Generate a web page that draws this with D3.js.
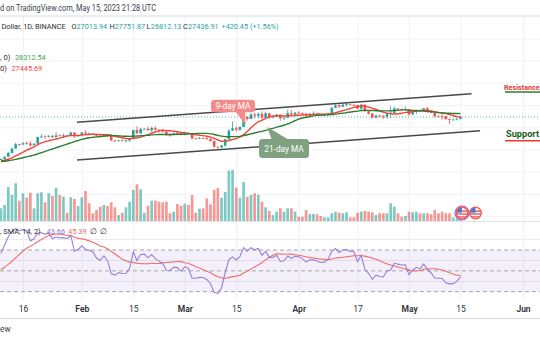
<!DOCTYPE html>
<html><head><meta charset="utf-8">
<script src="https://cdn.jsdelivr.net/npm/d3@7/dist/d3.min.js"></script>
<style>html,body{margin:0;padding:0;background:#fff;overflow:hidden}svg{display:block}</style>
</head><body><svg id="c" width="540" height="340"></svg>
<script>
// ---------- DATA ----------
// closes before the visible range (Dec 1 2022 - Jan 9 2023), used for the indicators
const warmupCloses = [16980,17095,16888,17109,16966,17089,16836,17224,17128,17127,17085,17207,17775,17804,17356,16632,16777,16738,16439,16906,16817,16821,16778,16836,16832,16919,16707,16548,16633,16607,16542,16616,16672,16675,16850,16831,16951,16955,17091,17178];
const firstDay = "2023-01-10", lastDay = "2023-05-15";
const opens = [
17178,17440,17943,18846,19930,20954,20871,21185,21134,20677,21071,22667,22783,22707,22917,22633,23060,23009,23074,23027,23743,22827,
23125,23732,23488,23431,23326,22933,22763,23264,22939,21819,21651,21870,21788,21808,22220,24325,23517,24569,24631,24271,24836,24439,24188,23947,23198,23175,23561,23522,
23147,23646,23475,22362,22354,22435,22429,22219,21718,20363,20187,20633,22163,24197,24746,24375,25052,27423,26965,28038,27768,28175,27307,28333,27493,27494,27994,27139,27268,28348,28033,
28478,28411,28199,27790,28169,28175,28033,27906,27947,28333,29652,30235,29884,30390,30485,30318,30315,29445,30397,28822,28245,27262,27816,27591,27514,28307,28422,29473,29340,29248,
29268,28068,28669,29026,28838,29507,28848,28430,27668,27628,27598,26968,26805,26826,27013.94];
const highs = [
17499,17990,19117,20000,21258,21050,21474,21647,21650,21192,22755,23371,23078,23170,23180,23816,23290,23500,23165,23960,23783,23320,
23812,24255,23715,23587,23433,23158,23350,23452,23011,21945,21906,22090,21899,22325,24380,25250,24877,24750,25192,25121,25250,24476,24600,24132,23218,23689,23895,23600,
24000,23780,23479,22410,22659,22603,22535,22267,21834,20367,20792,22185,24500,26386,25250,25196,27756,27725,28390,28472,28500,28803,28750,28400,27800,28200,28044,27500,29200,29159,28659,
28820,28530,28500,28444,28776,28190,28100,28170,28530,29770,30550,30500,30620,31000,30600,30550,30320,30485,30410,29076,28372,27882,27820,28000,28400,30020,29890,29600,29460,29960,
29338,28880,29266,29379,29677,29820,29138,28631,27820,28335,27638,27075,27050,27200,27751.87];
const lows = [
17156,17315,17910,18714,19888,20551,20611,20835,20407,20659,20861,22422,22292,22512,22465,22300,22850,22534,22878,22978,22500,22714,
22745,23364,23205,23253,22745,22628,22745,22665,21688,21451,21599,21631,21351,21532,22047,23505,23339,24433,24192,23840,24150,23574,23608,22841,22722,23068,23106,23020,
23020,23195,21971,22085,22198,22257,21928,21580,20042,19549,19946,20271,21918,24042,23930,24123,25000,26578,26889,27178,27124,26601,27105,27000,27153,27445,26552,26631,27226,27720,27525,
28220,27870,27200,27660,27820,27711,27766,27865,27800,28170,29600,29620,29850,29900,30225,30120,29272,29100,28630,28010,27125,27140,27350,26942,27020,27235,28380,28890,29085,29100,
27680,27872,28130,28669,28800,28385,28395,27262,27353,26777,26707,25811,26692,26600,26812.13];
const closes = [
17440,17943,18846,19930,20954,20871,21185,21134,20677,21071,22667,22783,22707,22917,22633,23060,23009,23074,23027,23743,22827,23125,
23732,23488,23431,23326,22933,22763,23264,22939,21819,21651,21870,21788,21808,22220,24325,23517,24569,24631,24271,24836,24439,24188,23947,23198,23175,23561,23522,23147,
23646,23475,22362,22354,22435,22429,22219,21718,20363,20187,20633,22163,24197,24746,24375,25052,27423,26965,28038,27768,28175,27307,28333,27493,27494,27994,27139,27268,28348,28033,28478,
28411,28199,27790,28169,28175,28033,27906,27947,28333,29652,30235,29884,30390,30485,30318,30315,29445,30397,28822,28245,27262,27816,27591,27514,28307,28422,29473,29340,29248,29268,
28068,28669,29026,28838,29507,28848,28430,27668,27628,27598,26968,26805,26826,27016,27436.91];
// volume, thousands
const volumes = [
127,160,340,260,377,203,277,233,283,127,277,287,187,277,250,333,260,243,83,237,220,150,
237,300,177,77,110,143,160,150,187,137,60,83,137,193,310,367,317,83,153,203,203,193,187,193,77,93,170,153,
173,160,260,83,123,127,227,167,310,330,233,290,503,510,333,233,390,243,260,277,263,193,137,100,60,93,127,93,127,127,93,
43,43,110,70,70,67,50,37,37,77,93,83,77,87,37,37,83,93,100,93,87,60,77,77,77,177,143,77,43,50,
93,87,93,77,77,77,67,110,77,93,77,77,37,27,40];
const tickDates = ["2023-01-16","2023-02-01","2023-02-15","2023-03-01","2023-03-15","2023-04-01","2023-04-17","2023-05-01","2023-05-15","2023-06-01"];
const tickLabels = ["16","Feb","15","Mar","15","Apr","17","May","15","Jun"];
const channelUpper = [["2023-01-30T16:30Z",26170],["2023-05-18T00:00Z",33006]];
const channelLower = [["2023-01-30T16:30Z",17160],["2023-05-20T08:00Z",24163]];
const maPeriods = [9, 21];
const maLegendValues = ["28312.54", "27445.69"];
const rsiLegendValues = ["43.66", "45.39"];
const rsiLen = 14, rsiMaLen = 14;
const rsiLevels = [70, 50, 30];

// ---------- SETUP ----------
const FONT = "Roboto, 'Liberation Sans', Arial, sans-serif";
const svg = d3.select('#c').style('font-family', FONT);
const D = s => new Date(s.length <= 10 ? s + "T00:00:00Z" : s);
const dates = d3.utcDay.range(D(firstDay), d3.utcDay.offset(D(lastDay), 1));
const N = dates.length;
const idx = d3.range(N);

const x = d3.scaleUtc().domain([D("2023-01-16"), D("2023-06-01")]).range([23, 523]);
const y = d3.scaleLinear().domain([17000, 31500]).range([160.7, 100]);
const yv = d3.scaleLinear().domain([0, 520]).range([221, 169]);
const yr = d3.scaleLinear().domain([30, 70]).range([291.7, 250]);

const UP = "#26a69a", DN = "#ef5350";

// ---------- INDICATORS ----------
const all = warmupCloses.concat(closes);
const off = warmupCloses.length;
function sma(arr, n, i) { let s = 0; for (let k = i - n + 1; k <= i; k++) s += arr[k]; return s / n; }
const maSeries = maPeriods.map(p => idx.map(i => sma(all, p, i + off)));
const rsiAll = new Array(all.length).fill(null);
let ag = 0, al = 0;
for (let k = 1; k <= rsiLen; k++) { const ch = all[k] - all[k-1]; ag += Math.max(ch, 0); al += Math.max(-ch, 0); }
ag /= rsiLen; al /= rsiLen;
rsiAll[rsiLen] = 100 - 100 / (1 + ag / al);
for (let k = rsiLen + 1; k < all.length; k++) {
  const ch = all[k] - all[k-1];
  ag = (ag * (rsiLen - 1) + Math.max(ch, 0)) / rsiLen;
  al = (al * (rsiLen - 1) + Math.max(-ch, 0)) / rsiLen;
  rsiAll[k] = 100 - 100 / (1 + ag / al);
}
const rsi = idx.map(i => rsiAll[i + off]);
const rsiMa = idx.map(i => sma(rsiAll, rsiMaLen, i + off));

// ---------- BACKGROUND / GRID ----------
svg.append('rect').attr('width', 540).attr('height', 340).attr('fill', '#fff');
svg.append('g').selectAll('line').data(d3.range(39, 220, 22.2)).join('line')
  .attr('x1', 0).attr('x2', 540).attr('y1', d => d).attr('y2', d => d)
  .attr('stroke', '#f2f3f7').attr('stroke-width', 1);
svg.append('g').selectAll('line').data([239.5, 260.5, 281.5]).join('line')
  .attr('x1', 0).attr('x2', 540).attr('y1', d => d).attr('y2', d => d)
  .attr('stroke', '#eceaf6').attr('stroke-width', 1);
const gridAxis = d3.axisBottom(x).tickValues(tickDates.map(D)).tickSize(-(300 - 16)).tickFormat('');
const gg = svg.append('g').attr('transform', 'translate(0,300)').call(gridAxis);
gg.select('.domain').remove();
gg.selectAll('line').attr('stroke', '#f0f1f5').attr('stroke-width', 1);

svg.append('rect').attr('x', 0).attr('width', 540)
  .attr('y', yr(rsiLevels[0])).attr('height', yr(rsiLevels[2]) - yr(rsiLevels[0]))
  .attr('fill', 'rgba(126,87,194,0.09)');
svg.append('g').selectAll('line').data(rsiLevels).join('line')
  .attr('x1', 0).attr('x2', 540).attr('y1', d => yr(d)).attr('y2', d => yr(d))
  .attr('stroke', '#a3a6af').attr('stroke-width', 1).attr('stroke-dasharray', '4,3');

svg.append('line').attr('x1', 0).attr('x2', 540).attr('y1', 16).attr('y2', 16).attr('stroke', '#e6e6f0').attr('stroke-width', 1.6);
svg.append('line').attr('x1', 0).attr('x2', 540).attr('y1', 221.5).attr('y2', 221.5).attr('stroke', '#e3e5ec').attr('stroke-width', 1);
svg.append('line').attr('x1', 0).attr('x2', 540).attr('y1', 318.5).attr('y2', 318.5).attr('stroke', '#d6d8e0').attr('stroke-width', 1);

// ---------- VOLUME ----------
const isUp = i => closes[i] >= opens[i];
svg.append('g').selectAll('rect').data(idx).join('rect')
  .attr('x', i => x(dates[i]) - 1.35).attr('width', 2.7)
  .attr('y', i => yv(volumes[i])).attr('height', i => yv(0) - yv(volumes[i]))
  .attr('fill', i => isUp(i) ? UP : DN).attr('fill-opacity', 0.6);

// ---------- LAST PRICE LINE ----------
svg.append('line').attr('x1', 0).attr('x2', 540)
  .attr('y1', y(closes[N-1])).attr('y2', y(closes[N-1]))
  .attr('stroke', UP).attr('stroke-width', 1).attr('stroke-dasharray', '1,2').attr('opacity', 0.8);

// ---------- CANDLES ----------
const cg = svg.append('g');
cg.selectAll('line').data(idx).join('line')
  .attr('x1', i => x(dates[i])).attr('x2', i => x(dates[i]))
  .attr('y1', i => y(highs[i])).attr('y2', i => y(lows[i]))
  .attr('stroke', i => isUp(i) ? UP : DN).attr('stroke-width', 0.8);
cg.selectAll('rect').data(idx).join('rect')
  .attr('x', i => x(dates[i]) - 1.3).attr('width', 2.6)
  .attr('y', i => y(Math.max(opens[i], closes[i])))
  .attr('height', i => Math.max(0.8, Math.abs(y(opens[i]) - y(closes[i]))))
  .attr('fill', i => isUp(i) ? UP : DN);

// ---------- MOVING AVERAGES ----------
const maColors = ["#f44336", "#2e7d32"];
maSeries.forEach((s, k) => {
  svg.append('path').datum(idx)
    .attr('d', d3.line().x(i => x(dates[i])).y(i => y(s[i])).curve(d3.curveMonotoneX))
    .attr('fill', 'none').attr('stroke', maColors[k]).attr('stroke-width', 1.4);
});

// ---------- CHANNEL LINES ----------
[channelUpper, channelLower].forEach(c => {
  svg.append('line')
    .attr('x1', x(D(c[0][0]))).attr('y1', y(c[0][1]))
    .attr('x2', x(D(c[1][0]))).attr('y2', y(c[1][1]))
    .attr('stroke', '#4a4a4a').attr('stroke-width', 1.5);
});

// ---------- RSI ----------
svg.append('path').datum(idx)
  .attr('d', d3.line().x(i => x(dates[i])).y(i => yr(rsiMa[i])).curve(d3.curveMonotoneX))
  .attr('fill', 'none').attr('stroke', '#f26d6d').attr('stroke-width', 1.1);
svg.append('path').datum(idx)
  .attr('d', d3.line().x(i => x(dates[i])).y(i => yr(rsi[i])))
  .attr('fill', 'none').attr('stroke', '#9a7fd8').attr('stroke-width', 1.1);

// ---------- ANNOTATION BUBBLES ----------
function bubble(o) {
  const cx = x(D(o.date)), cy = y(o.price);
  const tx = x(D(o.tipDate)), ty = y(o.tipPrice);
  const g = svg.append('g');
  g.append('path').attr('d', `M${cx + o.tail[0]},${cy + o.tailY} L${cx + o.tail[1]},${cy + o.tailY} L${tx},${ty} Z`).attr('fill', o.fill);
  g.append('rect').attr('x', cx - o.w / 2).attr('y', cy - o.h / 2).attr('width', o.w).attr('height', o.h)
    .attr('rx', 3.5).attr('fill', o.fill);
  g.append('text').attr('x', cx).attr('y', cy + 3).attr('text-anchor', 'middle')
    .attr('font-size', 8.3).attr('fill', '#fff').text(o.text);
}
bubble({text: "9-day MA", date: "2023-03-14T03:00Z", price: 30070, w: 44, h: 12.5, fill: "#f28c8c",
  tipDate: "2023-03-17T14:00Z", tipPrice: 25525, tail: [2, 12], tailY: 5});
bubble({text: "21-day MA", date: "2023-03-28T00:00Z", price: 19908, w: 50, h: 19, fill: "#7fa17f",
  tipDate: "2023-03-23T10:00Z", tipPrice: 25047, tail: [-12, 6], tailY: -8});

// Resistance / Support
svg.append('text').attr('x', 504).attr('y', 90).attr('font-size', 7.2).attr('font-weight', 700)
  .attr('fill', '#e53935').text('Resistance');
svg.append('line').attr('x1', 505).attr('x2', 540).attr('y1', 92).attr('y2', 92).attr('stroke', '#2e7d32').attr('stroke-width', 1.4);
svg.append('text').attr('x', 506).attr('y', 136.7).attr('font-size', 9.2).attr('font-weight', 700)
  .attr('fill', '#1b5e20').text('Support');
svg.append('line').attr('x1', 505).attr('x2', 540).attr('y1', 140.7).attr('y2', 140.7).attr('stroke', '#e53935').attr('stroke-width', 1.4);

// event icons
function flag(cx, cy, r, ring) {
  const g = svg.append('g');
  const id = 'clip' + Math.round(cx);
  g.append('clipPath').attr('id', id).append('circle').attr('cx', cx).attr('cy', cy).attr('r', r);
  if (ring) g.append('circle').attr('cx', cx).attr('cy', cy).attr('r', r + 1.2).attr('fill', '#fff').attr('stroke', ring).attr('stroke-width', 1.2);
  const f = g.append('g').attr('clip-path', `url(#${id})`);
  f.append('rect').attr('x', cx - r).attr('y', cy - r).attr('width', 2 * r).attr('height', 2 * r).attr('fill', '#fff');
  [-0.45, 0.05, 0.55].forEach(t => f.append('rect').attr('x', cx - r).attr('y', cy + t * r).attr('width', 2 * r).attr('height', r * 0.25).attr('fill', '#ee5a5a'));
  f.append('rect').attr('x', cx - r).attr('y', cy - r).attr('width', r).attr('height', r * 0.95).attr('fill', '#4b7bd8');
  g.append('circle').attr('cx', cx).attr('cy', cy).attr('r', r).attr('fill', 'none').attr('stroke', '#ef5350').attr('stroke-width', 1.3);
}
flag(x(D("2023-05-15")) + 1.5, 213, 5.8, '#b05cc8');
flag(x(D("2023-05-15")) + 15, 213, 5.8, null);

// ---------- DATE AXIS ----------
const axis = d3.axisBottom(x).tickValues(tickDates.map(D)).tickSize(0)
  .tickFormat((d, i) => tickLabels[i]);
const ag2 = svg.append('g').attr('transform', 'translate(0,303)').call(axis);
ag2.select('.domain').remove();
ag2.selectAll('text').attr('font-size', 8.5).attr('fill', '#2a2e39').attr('font-family', FONT)
  .attr('font-weight', (d, i) => /^[A-Z]/.test(tickLabels[i]) ? 600 : 400);

// ---------- TEXTS ----------
const TXT = '#2a2e39';
function t(xp, yp, s, fill, size, tl) {
  const e = svg.append('text').attr('x', xp).attr('y', yp).attr('font-size', size || 8).attr('fill', fill || TXT).text(s);
  if (tl) e.attr('textLength', tl).attr('lengthAdjust', 'spacingAndGlyphs');
  return e;
}
t(0, 11.3, "d on TradingView.com, May 15, 2023 21:28 UTC", '#3a3e49', 8.3, 156);
const last = N - 1;
const fmt = d3.format(".2f");
const S2 = 7.3, Y2 = 28.5;
t(1.5, Y2, "Dollar, 1D, BINANCE", TXT, S2);
t(71.5, Y2, "O", TXT, S2); t(76.5, Y2, fmt(opens[last]), UP, S2);
t(109.5, Y2, "H", TXT, S2); t(114.5, Y2, fmt(highs[last]), UP, S2);
t(146.5, Y2, "L", TXT, S2); t(150.8, Y2, fmt(lows[last]), UP, S2);
t(183, Y2, "C", TXT, S2); t(188, Y2, fmt(closes[last]), UP, S2);
t(221.5, Y2, "+420.45 (+1.56%)", UP, S2);
t(0, 59.5, ", 0)", TXT, 7.6); t(15, 59.5, maLegendValues[0], "#43a047", 7.3);
t(0, 70.5, "0)", TXT, 7.6); t(11.5, 70.5, maLegendValues[1], "#f44336", 7.3);
t(0, 233.5, ", SMA, 14, 2)", TXT, 7.4);
t(46.5, 233.5, rsiLegendValues[0], "#8f72d6", 7.4);
t(68, 233.5, rsiLegendValues[1], "#f26d6d", 7.4);
t(90, 233.5, "∅", TXT, 7.6); t(100, 233.5, "∅", TXT, 7.6);
t(0, 331.5, "ew", '#3a3e49', 8.3);
</script></body></html>
